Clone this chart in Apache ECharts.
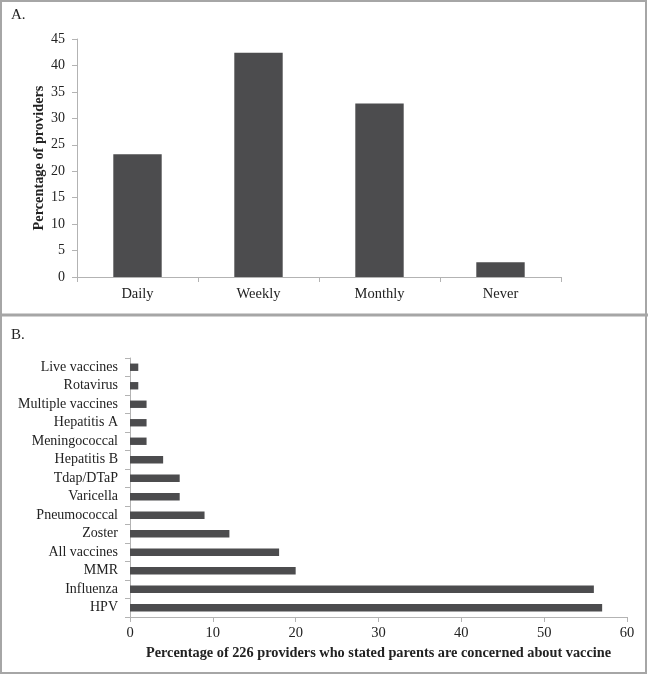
<!DOCTYPE html>
<html>
<head>
<meta charset="utf-8">
<script src="https://cdn.jsdelivr.net/npm/echarts@6/dist/echarts.min.js"></script>
<style>
html,body{margin:0;padding:0;background:#fff;}
#c{width:648px;height:675px;}
</style>
</head>
<body>
<div id="c"></div>
<script>
// Panel A data
var freqCategories = ['Daily', 'Weekly', 'Monthly', 'Never'];
var freqValues = [23.2, 42.4, 32.8, 2.8];
var freqTicks = [0, 5, 10, 15, 20, 25, 30, 35, 40, 45];

// Panel B data (bottom to top)
var vaccineCategories = ['HPV', 'Influenza', 'MMR', 'All vaccines', 'Zoster', 'Pneumococcal',
  'Varicella', 'Tdap/DTaP', 'Hepatitis B', 'Meningococcal', 'Hepatitis A',
  'Multiple vaccines', 'Rotavirus', 'Live vaccines'];
var vaccineValues = [57, 56, 20, 18, 12, 9, 6, 6, 4, 2, 2, 2, 1, 1];
var concernTicks = [0, 10, 20, 30, 40, 50, 60];

var FONT = 'Liberation Serif';
var axisColor = '#b3b3b3';
var barColor = '#4c4c4e';
var labelColor = '#222';

var chart = echarts.init(document.getElementById('c'), null, {renderer: 'canvas'});
chart.setOption({
  animation: false,
  backgroundColor: '#fff',
  graphic: [
    {type: 'rect', shape: {x: 1, y: 1, width: 645, height: 672}, style: {fill: 'none', stroke: '#a6a6a6', lineWidth: 2}},
    {type: 'line', shape: {x1: 0, y1: 315, x2: 648, y2: 315}, style: {stroke: '#a6a6a6', lineWidth: 3}},
    {type: 'text', left: 11, top: 8, style: {text: 'A.', font: '15px "Liberation Serif"', fill: labelColor}},
    {type: 'text', left: 11, top: 328, style: {text: 'B.', font: '15px "Liberation Serif"', fill: labelColor}}
  ],
  grid: [
    {left: 77, top: 39, width: 484, height: 238, containLabel: false},
    {left: 130, top: 358, width: 497, height: 259, containLabel: false}
  ],
  xAxis: [
    {
      gridIndex: 0, type: 'category', data: freqCategories, boundaryGap: true,
      axisLine: {lineStyle: {color: axisColor, width: 1}},
      axisTick: {show: true, length: 5, lineStyle: {color: axisColor}, alignWithLabel: false},
      axisLabel: {fontFamily: FONT, fontSize: 14.5, color: labelColor, margin: 10}
    },
    {
      gridIndex: 1, type: 'value', min: 0, max: 60, interval: 10,
      axisLine: {show: true, lineStyle: {color: axisColor}},
      axisTick: {show: true, length: 5, lineStyle: {color: axisColor}},
      splitLine: {show: false},
      axisLabel: {fontFamily: FONT, fontSize: 14.5, color: labelColor, margin: 9,
        formatter: function (v) { return concernTicks.indexOf(v) >= 0 ? String(v) : ''; }},
      name: 'Percentage of 226 providers who stated parents are concerned about vaccine',
      nameLocation: 'middle', nameGap: 29,
      nameTextStyle: {fontFamily: FONT, fontSize: 14.3, fontWeight: 'bold', color: labelColor}
    }
  ],
  yAxis: [
    {
      gridIndex: 0, type: 'value', min: 0, max: 45, interval: 5,
      axisLine: {show: true, lineStyle: {color: axisColor}},
      axisTick: {show: true, length: 5, lineStyle: {color: axisColor}},
      splitLine: {show: false},
      axisLabel: {fontFamily: FONT, fontSize: 14, color: labelColor, margin: 12,
        formatter: function (v) { return freqTicks.indexOf(v) >= 0 ? String(v) : ''; }},
      name: 'Percentage of providers', nameLocation: 'middle', nameGap: 31,
      nameMoveOverlap: false,
      nameTextStyle: {fontFamily: FONT, fontSize: 14.3, fontWeight: 'bold', color: labelColor}
    },
    {
      gridIndex: 1, type: 'category', data: vaccineCategories, boundaryGap: true,
      axisLine: {lineStyle: {color: axisColor}},
      axisTick: {show: true, length: 5, lineStyle: {color: axisColor}},
      axisLabel: {fontFamily: FONT, fontSize: 14, color: labelColor, margin: 12}
    }
  ],
  series: [
    {
      type: 'bar', xAxisIndex: 0, yAxisIndex: 0, data: freqValues,
      barWidth: '40%', itemStyle: {color: barColor}
    },
    {
      type: 'bar', xAxisIndex: 1, yAxisIndex: 1, data: vaccineValues,
      barWidth: '40%', itemStyle: {color: barColor}
    }
  ]
});
</script>
</body>
</html>
